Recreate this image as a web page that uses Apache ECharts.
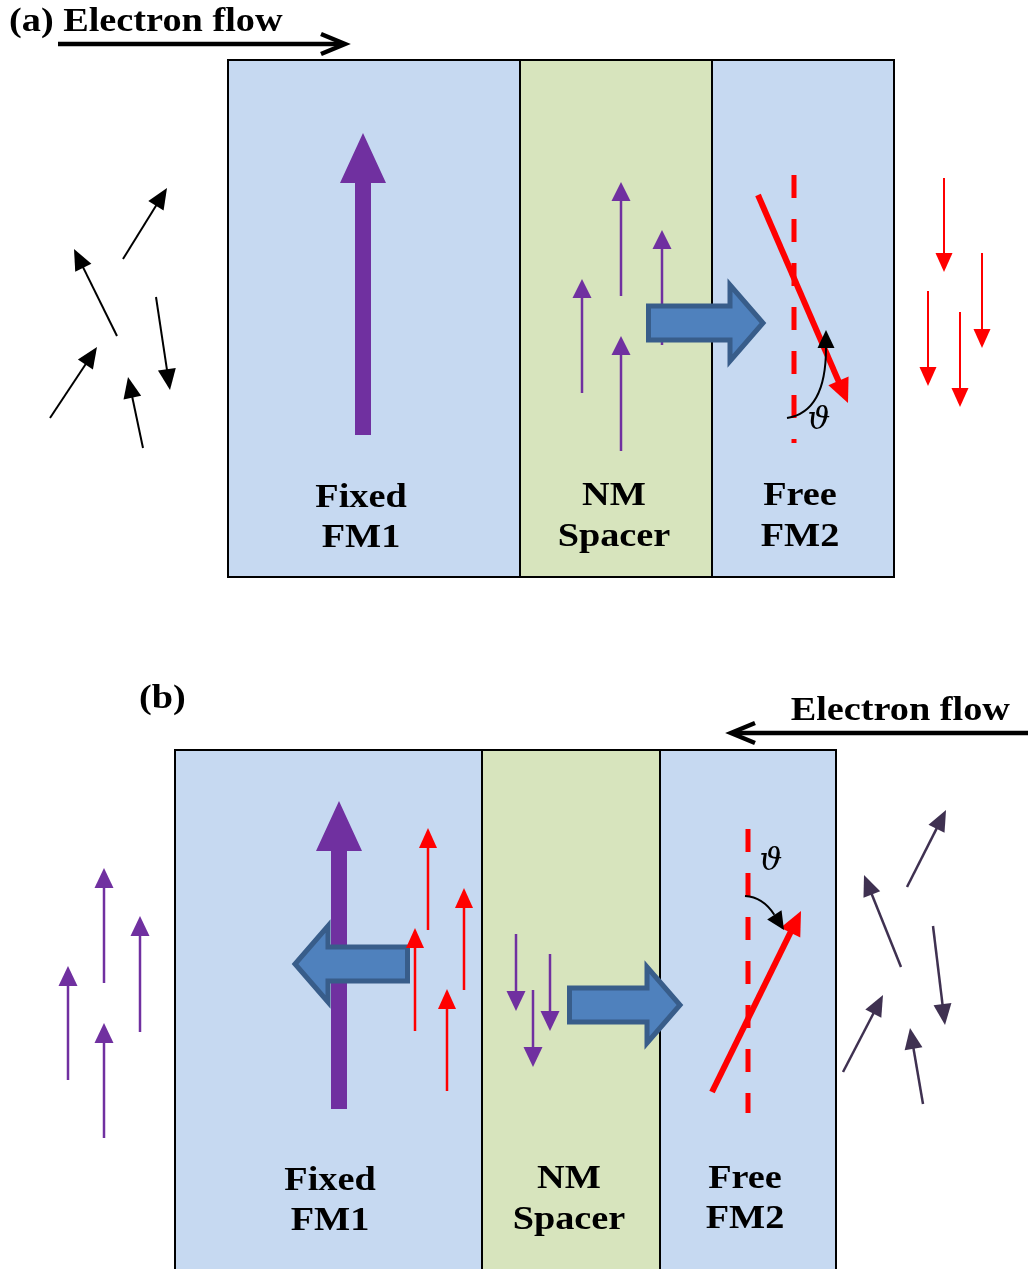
<!DOCTYPE html>
<html>
<head>
<meta charset="utf-8">
<script src="https://cdn.jsdelivr.net/npm/echarts@6/dist/echarts.min.js"></script>
<style>
  html, body { margin: 0; padding: 0; background: #ffffff; }
  #chart { width: 1028px; height: 1269px; }
</style>
</head>
<body>
<div id="chart"></div>
<script>
// Spin-transfer torque schematic: (a) electrons flowing FM1 -> FM2, (b) reverse flow.
// All geometry is given in diagram units on a hidden 1028 x 1269 cartesian frame.

// Layer stacks: [kind, xLeft, xRight, yTop, yBottom]
const layersA = [
  ['fm', 228, 520, 60, 577],
  ['nm', 520, 712, 60, 577],
  ['fm', 712, 894, 60, 577]
];
const layersB = [
  ['fm', 175, 482, 750, 1280],
  ['nm', 482, 660, 750, 1280],
  ['fm', 660, 836, 750, 1280]
];

// Layer captions: [text, xCenter, yCenter]
const layerLabels = [
  ['Fixed', 361, 498], ['FM1', 361, 538],
  ['NM', 614, 496], ['Spacer', 614, 537],
  ['Free', 800, 496], ['FM2', 800, 537],
  ['Fixed', 330, 1181], ['FM1', 330, 1221],
  ['NM', 569, 1179], ['Spacer', 569, 1220],
  ['Free', 745, 1179], ['FM2', 745, 1219]
];

// Panel titles: [text, x, yCenter, align]
const titles = [
  ['(a) Electron flow', 9, 22, 'left'],
  ['(b)', 139, 699, 'left'],
  ['Electron flow', 1010, 711, 'right']
];

// Angle symbols: [text, x, y]
const angleLabels = [
  ['\u03D1', 819, 421],
  ['\u03D1', 771, 862]
];

// Electron-flow arrows: [tailX, tipX, y]
const flowArrows = [
  [58, 345, 44],
  [1030, 731, 733]
];

// Fixed-layer magnetisation (thick purple): [x, tailY, tipY]
const fixedMoments = [
  [363, 435, 133],
  [339, 1109, 801]
];

// Spin-current block arrows: [tailX, tipX, y]
const spinCurrents = [
  [646, 767, 323],
  [410, 291, 964],
  [567, 684, 1005]
];

// Free-layer reference axis (dashed): [x, yTop, yBottom]
const freeAxes = [
  [794, 175, 443],
  [748, 829, 1113]
];

// Free-layer magnetisation (tilted red): [tailX, tailY, tipX, tipY]
const freeMoments = [
  [758, 195, 848, 403],
  [712, 1092, 801, 911]
];

// Rotation arcs: [startX, startY, ctrlX, ctrlY, tipX, tipY]
const angleArcs = [
  [787, 418, 826, 412, 826, 330],
  [745, 896, 763, 897, 784, 930]
];

// Individual electron spins: [tailX, tailY, tipX, tipY]
const unpolarisedA = [
  [123, 259, 167, 188],
  [117, 336, 74, 249],
  [156, 297, 170, 390],
  [50, 418, 97, 347],
  [143, 448, 128, 377]
];
const spacerSpinsA = [
  [621, 296, 621, 182],
  [662, 345, 662, 230],
  [582, 393, 582, 279],
  [621, 451, 621, 336]
];
const reflectedA = [
  [944, 178, 944, 272],
  [982, 253, 982, 348],
  [928, 291, 928, 386],
  [960, 312, 960, 407]
];
const polarisedB = [
  [104, 983, 104, 868],
  [140, 1032, 140, 916],
  [68, 1080, 68, 966],
  [104, 1138, 104, 1023]
];
const transmittedB = [
  [428, 930, 428, 828],
  [464, 990, 464, 888],
  [415, 1031, 415, 928],
  [447, 1091, 447, 989]
];
const spacerSpinsB = [
  [516, 934, 516, 1011],
  [550, 954, 550, 1031],
  [533, 990, 533, 1067]
];
const unpolarisedB = [
  [907, 887, 946, 810],
  [901, 967, 864, 875],
  [933, 926, 945, 1025],
  [843, 1072, 883, 995],
  [923, 1104, 910, 1028]
];

const COLORS = {
  fm: '#C6D9F1', nm: '#D7E4BD', purple: '#7030A0', red: '#FF0000',
  black: '#000000', darkPurple: '#3F3151', blockFill: '#4F81BD', blockEdge: '#385D8A'
};
const LABEL_FONT = 'bold 33px "Liberation Serif", "Times New Roman", serif';
const LABEL_STRETCH = 1.16;

function headedLine(api, a, b, color, lw, headLen, headW) {
  const p1 = api.coord(a), p2 = api.coord(b);
  const dx = p2[0] - p1[0], dy = p2[1] - p1[1];
  const L = Math.hypot(dx, dy), ux = dx / L, uy = dy / L;
  const bx = p2[0] - ux * headLen, by = p2[1] - uy * headLen;
  const nx = -uy, ny = ux;
  return [
    { type: 'line', shape: { x1: p1[0], y1: p1[1], x2: bx + ux, y2: by + uy },
      style: { stroke: color, lineWidth: lw } },
    { type: 'polygon', shape: { points: [[p2[0], p2[1]],
        [bx + nx * headW / 2, by + ny * headW / 2], [bx - nx * headW / 2, by - ny * headW / 2]] },
      style: { fill: color } }
  ];
}

function spinSeries(name, arr, color, lw, headLen, headW, z) {
  return {
    type: 'custom', name: name, z: z, coordinateSystem: 'cartesian2d', silent: true,
    data: arr.map(d => [d[0], d[1]]),
    renderItem: function (params, api) {
      const d = arr[params.dataIndex];
      return { type: 'group', children: headedLine(api, [d[0], d[1]], [d[2], d[3]], color, lw, headLen, headW) };
    }
  };
}

function textSeries(name, arr, font, stretch, z) {
  return {
    type: 'custom', name: name, z: z, coordinateSystem: 'cartesian2d', silent: true,
    data: arr.map(d => [d[1], d[2]]),
    renderItem: function (params, api) {
      const d = arr[params.dataIndex];
      const p = api.coord([d[1], d[2]]);
      const align = d[3] || 'center';
      return {
        type: 'text', x: p[0], y: p[1], scaleX: stretch, scaleY: 1,
        style: { text: d[0], x: 0, y: 0, fill: '#000', font: font,
          align: align, verticalAlign: 'middle', textAlign: align, textVerticalAlign: 'middle' }
      };
    }
  };
}

const layers = layersA.concat(layersB);

const chart = echarts.init(document.getElementById('chart'), null, { renderer: 'canvas' });
chart.setOption({
  animation: false,
  backgroundColor: '#ffffff',
  grid: { left: 0, right: 0, top: 0, bottom: 0, containLabel: false },
  xAxis: { type: 'value', min: 0, max: 1028, show: false },
  yAxis: { type: 'value', min: 0, max: 1269, inverse: true, show: false },
  series: [
    {
      type: 'custom', name: 'layers', z: 1, coordinateSystem: 'cartesian2d', silent: true,
      data: layers.map(d => [d[1], d[3]]),
      renderItem: function (params, api) {
        const d = layers[params.dataIndex];
        const p0 = api.coord([d[1], d[3]]), p1 = api.coord([d[2], d[4]]);
        return {
          type: 'rect',
          shape: { x: p0[0], y: p0[1], width: p1[0] - p0[0], height: p1[1] - p0[1] },
          style: { fill: COLORS[d[0]], stroke: '#000', lineWidth: 2 }
        };
      }
    },
    {
      type: 'custom', name: 'freeAxes', z: 2, coordinateSystem: 'cartesian2d', silent: true,
      data: freeAxes.map(d => [d[0], d[1]]),
      renderItem: function (params, api) {
        const d = freeAxes[params.dataIndex];
        const a = api.coord([d[0], d[1]]), b = api.coord([d[0], d[2]]);
        return {
          type: 'line', shape: { x1: a[0], y1: a[1], x2: b[0], y2: b[1] },
          style: { stroke: COLORS.red, lineWidth: 5, lineDash: [23, 21] }
        };
      }
    },
    spinSeries('spacerSpinsA', spacerSpinsA, COLORS.purple, 2.5, 19, 19, 3),
    {
      type: 'custom', name: 'fixedMoments', z: 4, coordinateSystem: 'cartesian2d', silent: true,
      data: fixedMoments.map(d => [d[0], d[1]]),
      renderItem: function (params, api) {
        const d = fixedMoments[params.dataIndex];
        const tail = api.coord([d[0], d[1]]), tip = api.coord([d[0], d[2]]);
        const x = tail[0], headBase = tip[1] + 50, sw = 8, hw = 23;
        return {
          type: 'polygon',
          shape: { points: [[x - sw, tail[1]], [x - sw, headBase], [x - hw, headBase], [x, tip[1]],
            [x + hw, headBase], [x + sw, headBase], [x + sw, tail[1]]] },
          style: { fill: COLORS.purple }
        };
      }
    },
    {
      type: 'custom', name: 'spinCurrents', z: 5, coordinateSystem: 'cartesian2d', silent: true,
      data: spinCurrents.map(d => [d[0], d[2]]),
      renderItem: function (params, api) {
        const d = spinCurrents[params.dataIndex];
        const t = api.coord([d[0], d[2]]), h = api.coord([d[1], d[2]]);
        const dir = h[0] > t[0] ? 1 : -1;
        const tipX = h[0] - dir * 4, tailX = t[0] + dir * 2.5;
        const baseX = tipX - dir * 33, y = t[1];
        const sh = 17, hh = 38;
        return {
          type: 'polygon',
          shape: { points: [[tailX, y - sh], [baseX, y - sh], [baseX, y - hh], [tipX, y],
            [baseX, y + hh], [baseX, y + sh], [tailX, y + sh]] },
          style: { fill: COLORS.blockFill, stroke: COLORS.blockEdge, lineWidth: 5, lineJoin: 'miter' }
        };
      }
    },
    spinSeries('unpolarisedA', unpolarisedA, COLORS.black, 2, 21, 18, 6),
    spinSeries('reflectedA', reflectedA, COLORS.red, 2, 19, 17, 6),
    spinSeries('polarisedB', polarisedB, COLORS.purple, 2.5, 20, 19, 6),
    spinSeries('transmittedB', transmittedB, COLORS.red, 2.5, 20, 18, 6),
    spinSeries('spacerSpinsB', spacerSpinsB, COLORS.purple, 2.5, 20, 19, 6),
    spinSeries('unpolarisedB', unpolarisedB, COLORS.darkPurple, 2.5, 21, 18, 6),
    spinSeries('freeMoments', freeMoments, COLORS.red, 6, 24, 22, 6),
    {
      type: 'custom', name: 'angleArcs', z: 7, coordinateSystem: 'cartesian2d', silent: true,
      data: angleArcs.map(d => [d[0], d[1]]),
      renderItem: function (params, api) {
        const d = angleArcs[params.dataIndex];
        const s = api.coord([d[0], d[1]]), c = api.coord([d[2], d[3]]), e = api.coord([d[4], d[5]]);
        const dx = e[0] - c[0], dy = e[1] - c[1], L = Math.hypot(dx, dy);
        const ux = dx / L, uy = dy / L, nx = -uy, ny = ux, hl = 18, hw = 17;
        const bx = e[0] - ux * hl, by = e[1] - uy * hl;
        return {
          type: 'group',
          children: [
            { type: 'bezierCurve', shape: { x1: s[0], y1: s[1], cpx1: c[0], cpy1: c[1], x2: bx, y2: by },
              style: { stroke: '#000', lineWidth: 2, fill: null } },
            { type: 'polygon', shape: { points: [[e[0], e[1]], [bx + nx * hw / 2, by + ny * hw / 2],
              [bx - nx * hw / 2, by - ny * hw / 2]] }, style: { fill: '#000' } }
          ]
        };
      }
    },
    {
      type: 'custom', name: 'flowArrows', z: 8, coordinateSystem: 'cartesian2d', silent: true,
      data: flowArrows.map(d => [d[0], d[2]]),
      renderItem: function (params, api) {
        const d = flowArrows[params.dataIndex];
        const t = api.coord([d[0], d[2]]), h = api.coord([d[1], d[2]]);
        const dir = h[0] > t[0] ? 1 : -1;
        return {
          type: 'group',
          children: [
            { type: 'line', shape: { x1: t[0], y1: t[1], x2: h[0] - dir * 2, y2: h[1] },
              style: { stroke: '#000', lineWidth: 4.5 } },
            { type: 'polyline', shape: { points: [[h[0] - dir * 24, h[1] - 10], [h[0], h[1]], [h[0] - dir * 24, h[1] + 10]] },
              style: { stroke: '#000', lineWidth: 4.5, fill: null, lineJoin: 'miter' } }
          ]
        };
      }
    },
    textSeries('layerLabels', layerLabels, LABEL_FONT, LABEL_STRETCH, 9),
    textSeries('titles', titles, LABEL_FONT, LABEL_STRETCH, 9),
    textSeries('angleLabels', angleLabels, 'italic 32px "DejaVu Serif", serif', 1, 9)
  ]
});
</script>
</body>
</html>
